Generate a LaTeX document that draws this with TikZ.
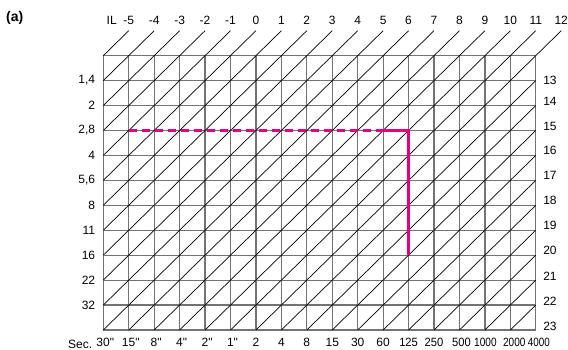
\documentclass[tikz,border=0pt]{standalone}
\usepackage{fontspec}
\usepackage{graphicx}
\setmainfont{Liberation Sans}
\newfontfamily\arialfont{Liberation Sans}
\definecolor{gridgray}{RGB}{115,115,115}
\definecolor{magentaline}{RGB}{230,0,126}
\begin{document}
\begin{tikzpicture}[x=1pt,y=-1pt,
  gridline/.style={draw=gridgray,line width=1.2pt},
  diag/.style={draw=black,line width=0.7pt},
  lbl/.style={font=\arialfont\fontsize{12}{14}\selectfont,inner sep=0pt},
  hl/.style={draw=magentaline,line width=3pt}]
\useasboundingbox (0,0) rectangle (568,350);
\def\xo{103.3}\def\dx{25.44}\def\yb{330}\def\dy{24.94}
\foreach \i in {0,...,18}{\foreach \r in {0,...,12}{%
  \coordinate (g-\i-\r) at ({\xo+\i*\dx},{\yb-\r*\dy});}}
% grid
\foreach \r in {0,...,11} \draw[gridline] (g-0-\r) -- (g-17-\r);
\foreach \i in {0,...,17} \draw[gridline] (g-\i-0) -- (g-\i-11);
% diagonals
\foreach \c in {-11,...,16}{%
  \pgfmathtruncatemacro\si{max(0,\c)}%
  \pgfmathtruncatemacro\sr{max(0,-\c)}%
  \pgfmathtruncatemacro\ei{\c<7 ? \c+12 : 17}%
  \pgfmathtruncatemacro\er{\c<7 ? 12 : 17-\c}%
  \draw[diag] (g-\si-\sr) -- (g-\ei-\er);}
% highlighted path
\draw[hl,dash pattern=on 8pt off 5pt] (g-1-8) -- (g-11-8);
\draw[hl] (g-11-8) -- (g-12-8) -- (g-12-3);
% title
\node[anchor=west,font=\arialfont\fontsize{14}{16}\selectfont\bfseries,inner sep=0pt] (title) at (6,18) {(a)};
% top labels
\node[lbl] (il) at ([xshift=-17pt,yshift=10.5pt]g-1-12) {IL};
\foreach \lab [count=\k] in {-5,-4,-3,-2,-1,0,1,2,3,4,5,6,7,8,9,10,11,12}
  \node[lbl] (top-\k) at ([yshift=10.5pt]g-\k-12) {\lab};
% left labels
\foreach \lab [count=\k] in {{1,4},2,{2,8},4,{5,6},8,11,16,22,32}{%
  \pgfmathtruncatemacro\r{11-\k}%
  \node[lbl,anchor=east] (left-\k) at ([xshift=-8pt]g-0-\r) {\lab};}
% right labels
\foreach \lab/\ys [count=\k] in {13/0,14/4.5,15/4.5,16/5,17/5,18/4.5,19/5,20/5,21/4,22/4,23/4}{%
  \pgfmathtruncatemacro\r{11-\k}%
  \node[lbl,anchor=west] (right-\k) at ([xshift=7.3pt,yshift=\ys pt]g-17-\r) {\lab};}
% bottom labels
\node[lbl,anchor=base east] (sec) at ([xshift=-11pt,yshift=-18pt]g-0-0) {Sec.};
\foreach \lab/\xs/\sc [count=\k from 0] in {30"/2/1,15"/2/1,8"/2/1,4"/2/1,2"/2/1,1"/2/1,2/0/1,4/0/1,8/0/1,15/0/1,30/0/1,60/0/1,125/0/0.93,250/0/0.93,500/2/0.93,1000/0.5/0.84,2000/4/0.84,4000/3/0.82}
  \node[lbl,anchor=base] (bot-\k) at ([xshift=\xs pt,yshift=-16pt]g-\k-0) {\scalebox{\sc}[1]{\lab}};
\end{tikzpicture}
\end{document}
